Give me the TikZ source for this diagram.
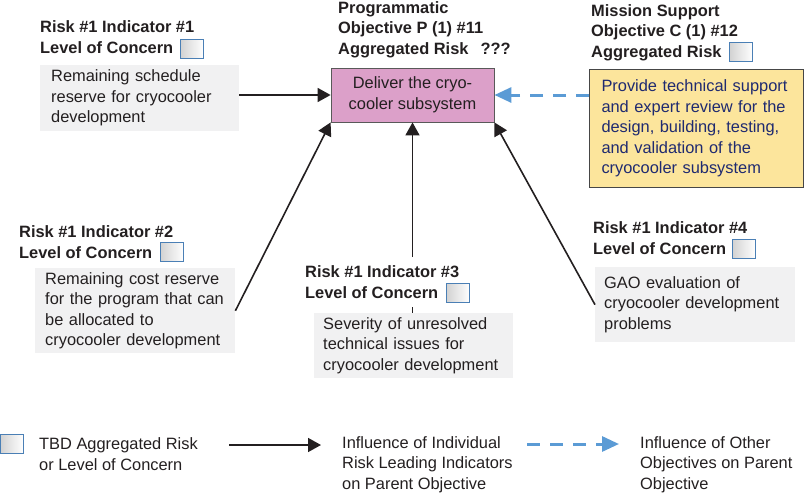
\documentclass[tikz,border=0pt]{standalone}
\usepackage{fontspec}
\setmainfont{Liberation Sans}
\usetikzlibrary{arrows.meta}
\definecolor{pinkfill}{HTML}{DCA0C9}
\definecolor{greyfill}{HTML}{F1F1F2}
\definecolor{yellowfill}{HTML}{FCE59C}
\definecolor{navytext}{HTML}{1F2A70}
\definecolor{dashblue}{HTML}{5B9BD5}
\definecolor{indblue}{HTML}{4A7FB5}
\definecolor{inkgrey}{HTML}{231F20}
\begin{document}
\begin{tikzpicture}[x=1pt,y=-1pt,
  bodyfont/.style={font=\fontsize{16.4}{20.5}\selectfont},
  txt/.style={bodyfont, inner sep=0, align=left, anchor=base west, text=inkgrey},
  hd/.style={txt, font=\fontsize{16.4}{20.5}\selectfont\bfseries},
  gbox/.style={bodyfont, fill=greyfill, anchor=north west, align=left, inner ysep=0, text=inkgrey},
  ind/.style={draw=indblue, line width=1pt, left color=gray!35, right color=white, minimum width=23, minimum height=19, inner sep=0, anchor=north west},
  arr/.style={draw=inkgrey, line width=1.6pt, -{Triangle[length=13pt,width=14pt]}},
  darr/.style={draw=dashblue, line width=3pt, dash pattern=on 13pt off 10pt, -{Triangle[length=17pt,width=15pt]}}
]
\useasboundingbox (0,0) rectangle (805,493);

% central objective
\node[bodyfont, draw=gray!70!black, line width=0.8pt, fill=pinkfill, minimum width=163, minimum height=54, align=center, inner sep=0, text=inkgrey] (pink) at (412.5,95) {Deliver the cryo-\\cooler subsystem};
\node[hd] (hP) at (338,54) {Programmatic\\Objective P (1) \#11\\Aggregated Risk\hspace{12pt}???};

% mission support
\node[hd] (hM) at (591,57) {Mission Support\\Objective C (1) \#12\\Aggregated Risk};
\node[ind] (iM) at (729,42) {};
\node[bodyfont, fill=yellowfill, draw=gray!55!black, line width=1pt, anchor=north west, align=left, text=navytext, text width=190, inner xsep=12, inner ysep=0, minimum height=118] (yel) at (589,69)
 {\mbox{Provide technical support}\\\mbox{and expert review for the}\\\mbox{design, building, testing,}\\\mbox{and validation of the}\\\mbox{cryocooler subsystem}};

% indicator 1
\node[hd] (h1) at (40,53) {Risk \#1 Indicator \#1\\Level of Concern};
\node[ind] (i1) at (180,39) {};
\node[gbox, text width=177, inner xsep=11, minimum height=66] (g1) at (40,65)
 {\mbox{Remaining schedule}\\\mbox{reserve for cryocooler}\\\mbox{development}};

% indicator 2
\node[hd] (h2) at (19,258) {Risk \#1 Indicator \#2\\Level of Concern};
\node[ind] (i2) at (160,242) {};
\node[gbox, text width=180, inner xsep=10, minimum height=85] (g2) at (35,268)
 {\mbox{Remaining cost reserve}\\\mbox{for the program that can}\\\mbox{be allocated to}\\\mbox{cryocooler development}};

% indicator 3
\node[hd] (h3) at (305,298) {Risk \#1 Indicator \#3\\Level of Concern};
\node[ind] (i3) at (446,283) {};
\node[gbox, text width=181, inner xsep=9, minimum height=65] (g3) at (314,313)
 {\mbox{Severity of unresolved}\\\mbox{technical issues for}\\\mbox{cryocooler development}};
\coordinate (t3a) at (412.5,257);
\coordinate (t3b) at (412.5,307);

% indicator 4
\node[hd] (h4) at (593,254) {Risk \#1 Indicator \#4\\Level of Concern};
\node[ind] (i4) at (732,239) {};
\node[gbox, text width=182, inner xsep=9, minimum height=75] (g4) at (595,267)
 {\mbox{GAO evaluation of}\\\mbox{cryocooler development}\\\mbox{problems}};

% connectors
\draw[arr] (g1.east |- pink.west) -- (pink.west);
\draw[arr] (g2.east) -- (pink.south west);
\draw[arr] (t3a) -- (pink.south);
\draw[draw=inkgrey, line width=1.6pt] (t3b) -- (g3.north -| t3b);
\draw[arr] (g4.west) -- (pink.south east);
\draw[darr] (yel.west |- pink.east) -- (pink.east);

% legend
\node[ind] (iL) at (0,434) {};
\node[txt] (l1) at (39,470) {TBD Aggregated Risk\\or Level of Concern};
\coordinate (la1) at (229,445);
\coordinate (la2) at (321,445);
\draw[arr] (la1) -- (la2);
\node[txt] (l2) at (342,489) {Influence of Individual\\Risk Leading Indicators\\on Parent Objective};
\coordinate (lb1) at (527,444);
\coordinate (lb2) at (619,444);
\draw[darr] (lb1) -- (lb2);
\node[txt] (l3) at (640,489) {Influence of Other\\Objectives on Parent\\Objective};
\end{tikzpicture}
\end{document}
